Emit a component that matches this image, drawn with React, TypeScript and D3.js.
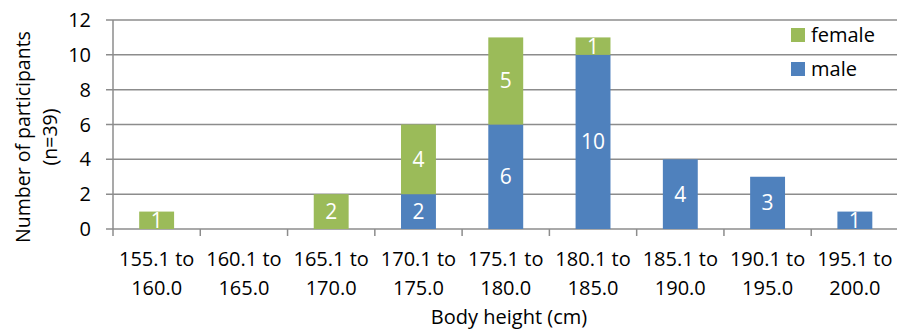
import React from "react";
import * as d3 from "d3";

const categories = [
  ["155.1 to", "160.0"],
  ["160.1 to", "165.0"],
  ["165.1 to", "170.0"],
  ["170.1 to", "175.0"],
  ["175.1 to", "180.0"],
  ["180.1 to", "185.0"],
  ["185.1 to", "190.0"],
  ["190.1 to", "195.0"],
  ["195.1 to", "200.0"],
];
const male = [0, 0, 0, 2, 6, 10, 4, 3, 1];
const female = [1, 0, 2, 4, 5, 1, 0, 0, 0];
const yTicks = [0, 2, 4, 6, 8, 10, 12];

const W = 897;
const H = 331;
const FONT = "'Open Sans', sans-serif";
const BLUE = "#4F81BD";
const GREEN = "#9BBB59";
const GRID = "#8c8c8c";

export default function App() {
  const left = 113;
  const right = 898.5;
  const top = 20;
  const bottom = 229;
  const x = d3
    .scaleBand<number>()
    .domain(d3.range(categories.length))
    .range([left, right])
    .paddingInner(0.6)
    .paddingOuter(0.3);
  const step = (right - left) / categories.length;
  const y = d3.scaleLinear().domain([0, 12]).range([bottom, top]);
  const stack = d3
    .stack<number>()
    .keys(["male", "female"])
    .value((i, key) => (key === "male" ? male[i] : female[i]))(d3.range(categories.length));
  const colors = [BLUE, GREEN];

  return (
    <svg
      width={W}
      height={H}
      style={{ position: "absolute", left: 0, top: 0, background: "#fff" }}
      fontFamily={FONT}
    >
      {yTicks.map((t) => (
        <g key={t}>
          <line x1={left - 7} x2={right} y1={y(t)} y2={y(t)} stroke={GRID} strokeWidth={1.5} />
          <text x={91} y={y(t) + 7} textAnchor="end" fontSize={20} fill="#000">
            {t}
          </text>
        </g>
      ))}
      <line x1={left} x2={left} y1={top} y2={bottom} stroke={GRID} strokeWidth={1.5} />
      {d3.range(categories.length + 1).map((i) => (
        <line
          key={i}
          x1={left + i * step}
          x2={left + i * step}
          y1={bottom}
          y2={bottom + 7}
          stroke={GRID}
          strokeWidth={1.5}
        />
      ))}
      {stack.map((layer, li) =>
        layer.map((d, i) => {
          const v = d[1] - d[0];
          if (v <= 0) return null;
          const bx = x(i)!;
          const bw = x.bandwidth();
          return (
            <g key={`${li}-${i}`}>
              <rect x={bx} y={y(d[1])} width={bw} height={y(d[0]) - y(d[1])} fill={colors[li]} />
              <text
                x={bx + bw / 2}
                y={(y(d[0]) + y(d[1])) / 2 + 7.5}
                textAnchor="middle"
                fontSize={21}
                fill="#fff"
              >
                {v}
              </text>
            </g>
          );
        })
      )}
      {categories.map((c, i) => (
        <text key={i} textAnchor="middle" fontSize={20} fill="#000">
          <tspan x={left + (i + 0.5) * step} y={266}>
            {c[0]}
          </tspan>
          <tspan x={left + (i + 0.5) * step} y={295}>
            {c[1]}
          </tspan>
        </text>
      ))}
      <text x={509} y={324} textAnchor="middle" fontSize={20} fill="#000">
        Body height (cm)
      </text>
      <g transform="translate(0,137) rotate(-90)">
        <text textAnchor="middle" fontSize={19.5} fill="#000">
          <tspan x={0} y={30}>Number of participants</tspan>
          <tspan x={0} y={57}>(n=39)</tspan>
        </text>
      </g>
      <rect x={791} y={28} width={14} height={14} fill={GREEN} />
      <text x={811} y={42} fontSize={20} fill="#000">female</text>
      <rect x={791} y={62} width={14} height={14} fill={BLUE} />
      <text x={811} y={76} fontSize={20} fill="#000">male</text>
    </svg>
  );
}
